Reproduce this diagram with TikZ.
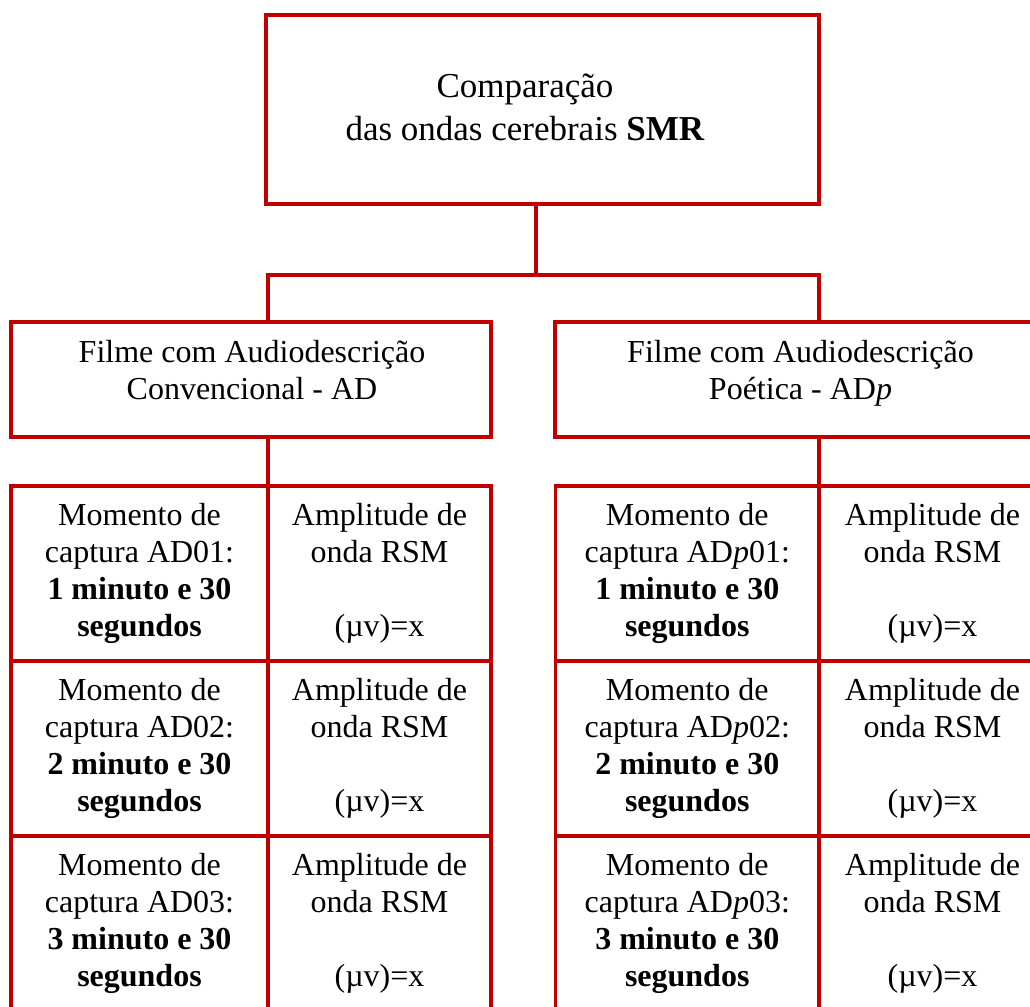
\documentclass[tikz,border=0pt]{standalone}
\usepackage{fontspec}
\setmainfont{Liberation Serif}
\definecolor{boxred}{RGB}{192,0,0}
\begin{document}
\begin{tikzpicture}[x=1pt,y=-1pt,
  box/.style={draw=boxred, line width=3.5pt, rectangle, inner sep=0pt, outer sep=0pt},
  conn/.style={draw=boxred, line width=3.5pt},
  txt/.style={align=center, inner sep=0pt, font=\fontsize{32}{36.8}\selectfont},
  cell/.style={box, align=center, font=\fontsize{32}{36.8}\selectfont, minimum height=175pt},
  cola/.style={cell, minimum width=257pt},
  colb/.style={cell, minimum width=223pt},
  colc/.style={cell, minimum width=263.5pt},
  cold/.style={cell, minimum width=227pt}]
\useasboundingbox (0,0) rectangle (1030,1006);
\clip (0,0) rectangle (1030,1006);

% top box
\node[box, minimum width=553pt, minimum height=189pt] (top) at (542.5,109.5) {};
\node[txt, font=\fontsize{35}{43}\selectfont] (topT) at (525,110.6)
  {\strut Comparação\\\strut das ondas cerebrais \textbf{SMR}};

% middle boxes
\node[box, minimum width=480pt, minimum height=115pt] (lbox) at (251,379.5) {};
\node[txt] (lboxT) at (252,373.9) {\strut Filme com Audiodescrição\\\strut Convencional - AD};
\node[box, minimum width=491pt, minimum height=115pt] (rbox) at (800.5,379.5) {};
\node[txt] (rboxT) at (800.5,373.9) {\strut Filme com Audiodescrição\\\strut Poética - AD\textit{p}};

% left table
\node[cola] (L11) at (139.5,573.5) {\strut Momento de\\\strut captura AD01:\\\strut\textbf{1 minuto e 30}\\\strut\textbf{segundos}};
\node[colb] (L12) at (379.5,573.5) {\strut Amplitude de\\\strut onda RSM\\\strut\\\strut (µv)=x};
\node[cola] (L21) at (139.5,748.5) {\strut Momento de\\\strut captura AD02:\\\strut\textbf{2 minuto e 30}\\\strut\textbf{segundos}};
\node[colb] (L22) at (379.5,748.5) {\strut Amplitude de\\\strut onda RSM\\\strut\\\strut (µv)=x};
\node[cola] (L31) at (139.5,923.5) {\strut Momento de\\\strut captura AD03:\\\strut\textbf{3 minuto e 30}\\\strut\textbf{segundos}};
\node[colb] (L32) at (379.5,923.5) {\strut Amplitude de\\\strut onda RSM\\\strut\\\strut (µv)=x};

% right table
\node[colc] (R11) at (687.25,573.5) {\strut Momento de\\\strut captura AD\textit{p}01:\\\strut\textbf{1 minuto e 30}\\\strut\textbf{segundos}};
\node[cold] (R12) at (932.5,573.5) {\strut Amplitude de\\\strut onda RSM\\\strut\\\strut (µv)=x};
\node[colc] (R21) at (687.25,748.5) {\strut Momento de\\\strut captura AD\textit{p}02:\\\strut\textbf{2 minuto e 30}\\\strut\textbf{segundos}};
\node[cold] (R22) at (932.5,748.5) {\strut Amplitude de\\\strut onda RSM\\\strut\\\strut (µv)=x};
\node[colc] (R31) at (687.25,923.5) {\strut Momento de\\\strut captura AD\textit{p}03:\\\strut\textbf{3 minuto e 30}\\\strut\textbf{segundos}};
\node[cold] (R32) at (932.5,923.5) {\strut Amplitude de\\\strut onda RSM\\\strut\\\strut (µv)=x};

% connectors
\coordinate (j1) at (536,275);
\draw[conn] (top.south -| j1) -- (j1);
\draw[conn] (lbox.north -| L11.east) |- (j1) -| (rbox.north -| R11.east);
\draw[conn] (lbox.south -| L11.east) -- (L11.north east);
\draw[conn] (rbox.south -| R11.east) -- (R11.north east);
\end{tikzpicture}
\end{document}
